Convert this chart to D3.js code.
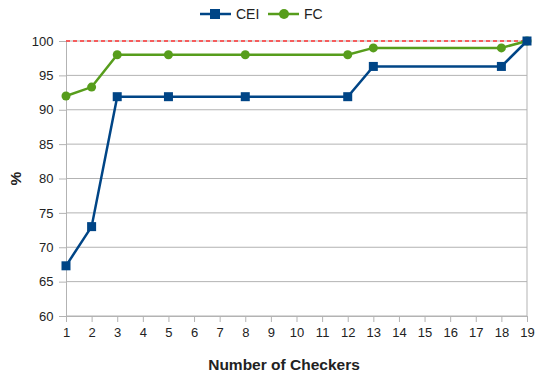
<!DOCTYPE html>
<html>
<head>
<meta charset="utf-8">
<script src="https://cdn.jsdelivr.net/npm/d3@7"></script>
<style>
  body { margin: 0; background: #fff; }
  text { font-family: "Liberation Sans", Arial, sans-serif; }
</style>
</head>
<body>
<div id="chart"></div>
<script>
// data
var checkers = [1, 2, 3, 5, 8, 12, 13, 18, 19];
var cei = [67.3, 73.0, 91.9, 91.9, 91.9, 91.9, 96.3, 96.3, 100];
var fc = [92.0, 93.3, 98.0, 98.0, 98.0, 98.0, 99.0, 99.0, 100];
var xTicks = d3.range(1, 20);
var yTicks = [60, 65, 70, 75, 80, 85, 90, 95, 100];
var target = 100;

var width = 535, height = 376;
var margin = {left: 66, right: 8, top: 41, bottom: 60};

var svg = d3.select("#chart").append("svg")
    .attr("width", width)
    .attr("height", height);

var x = d3.scaleLinear().domain([1, 19]).range([margin.left, width - margin.right]);
var y = d3.scaleLinear().domain([60, 100]).range([height - margin.bottom, margin.top]);

// horizontal grid
svg.append("g").selectAll("line")
    .data(yTicks)
    .enter().append("line")
    .attr("x1", x(1)).attr("x2", x(19))
    .attr("y1", function(d) { return y(d); })
    .attr("y2", function(d) { return y(d); })
    .attr("stroke", "#b3b3b3").attr("stroke-width", 1);

// right border
svg.append("line")
    .attr("x1", x(19)).attr("x2", x(19))
    .attr("y1", y(60)).attr("y2", y(100))
    .attr("stroke", "#b3b3b3");

// axes
var xAxis = svg.append("g")
    .attr("transform", "translate(0," + y(60) + ")")
    .call(d3.axisBottom(x).tickValues(xTicks).tickFormat(d3.format("d")).tickSize(6).tickSizeOuter(0));
var yAxis = svg.append("g")
    .attr("transform", "translate(" + x(1) + ",0)")
    .call(d3.axisLeft(y).tickValues(yTicks).tickSize(7).tickSizeOuter(0));

[xAxis, yAxis].forEach(function(a) {
  a.select(".domain").attr("stroke", "#b3b3b3");
  a.selectAll(".tick line").attr("stroke", "#b3b3b3");
  a.selectAll(".tick text").attr("fill", "#222").attr("font-size", "13px")
    .style("font-family", "Liberation Sans, Arial, sans-serif");
});
xAxis.selectAll(".tick text").attr("dy", "0.95em");
yAxis.selectAll(".tick text").attr("dx", "-0.2em");

// target line at 100
svg.append("line")
    .attr("x1", x(1)).attr("x2", x(19))
    .attr("y1", y(target)).attr("y2", y(target))
    .attr("stroke", "#ff3333").attr("stroke-width", 1.5)
    .attr("stroke-dasharray", "4,3");

var line = d3.line()
    .x(function(d) { return x(d[0]); })
    .y(function(d) { return y(d[1]); });

var fcPts = d3.zip(checkers, fc);
var ceiPts = d3.zip(checkers, cei);

// FC series
svg.append("path").datum(fcPts)
    .attr("d", line).attr("fill", "none")
    .attr("stroke", "#579d1c").attr("stroke-width", 2.5);
svg.append("g").selectAll("circle")
    .data(fcPts).enter().append("circle")
    .attr("cx", function(d) { return x(d[0]); })
    .attr("cy", function(d) { return y(d[1]); })
    .attr("r", 4.5).attr("fill", "#579d1c");

// CEI series
svg.append("path").datum(ceiPts)
    .attr("d", line).attr("fill", "none")
    .attr("stroke", "#004586").attr("stroke-width", 2.5);
svg.append("g").selectAll("rect")
    .data(ceiPts).enter().append("rect")
    .attr("x", function(d) { return x(d[0]) - 4.5; })
    .attr("y", function(d) { return y(d[1]) - 4.5; })
    .attr("width", 9).attr("height", 9).attr("fill", "#004586");

// axis titles
svg.append("text")
    .attr("x", 284).attr("y", 370)
    .attr("text-anchor", "middle")
    .attr("font-size", "15.5px").attr("font-weight", "bold")
    .attr("fill", "#222")
    .text("Number of Checkers");

svg.append("text")
    .attr("transform", "translate(21," + ((y(60) + y(100)) / 2) + ") rotate(-90)")
    .attr("text-anchor", "middle")
    .attr("font-size", "15.5px").attr("font-weight", "bold")
    .attr("fill", "#222")
    .text("%");

// legend
var legend = [
  {name: "CEI", color: "#004586", shape: "rect", x: 200},
  {name: "FC", color: "#579d1c", shape: "circle", x: 268}
];
var lg = svg.append("g").selectAll("g")
    .data(legend).enter().append("g")
    .attr("transform", function(d) { return "translate(" + d.x + ",14)"; });
lg.append("line")
    .attr("x1", 0).attr("x2", 31)
    .attr("stroke", function(d) { return d.color; })
    .attr("stroke-width", 2.5);
lg.filter(function(d) { return d.shape == "rect"; }).append("rect")
    .attr("x", 10).attr("y", -5).attr("width", 10).attr("height", 10)
    .attr("fill", function(d) { return d.color; });
lg.filter(function(d) { return d.shape == "circle"; }).append("circle")
    .attr("cx", 16).attr("r", 5)
    .attr("fill", function(d) { return d.color; });
lg.append("text")
    .attr("x", 36).attr("dy", "0.36em")
    .attr("font-size", "14px").attr("fill", "#222")
    .text(function(d) { return d.name; });
</script>
</body>
</html>
